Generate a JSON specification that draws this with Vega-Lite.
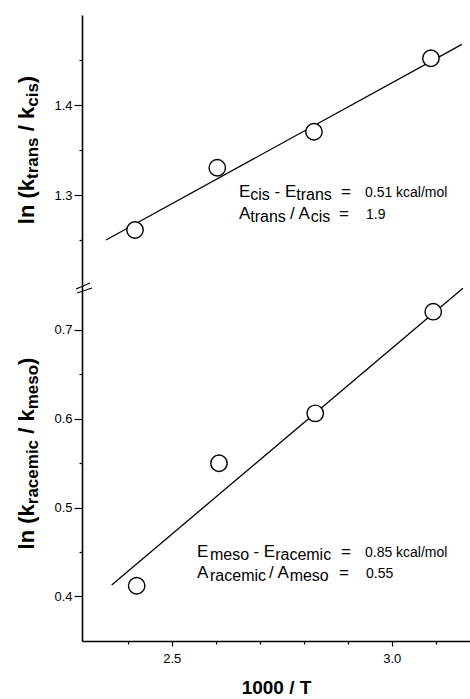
{
  "$schema": "https://vega.github.io/schema/vega-lite/v6.json",
  "width": 388,
  "height": 626,
  "autosize": {"type": "none"},
  "padding": {"left": 82, "top": 15, "right": 0, "bottom": 58},
  "background": "white",
  "config": {
    "view": {"stroke": null},
    "font": "Liberation Sans",
    "axis": {"grid": false, "domainColor": "black", "domainWidth": 1.6, "tickColor": "black", "tickWidth": 1.2, "labelColor": "black", "labelFont": "Liberation Sans", "labelFontSize": 13, "titleColor": "black", "titleFont": "Liberation Sans"}
  },
  "datasets": {
    "top_pts": [{"x": 2.4165, "y": 1.2611}, {"x": 2.6035, "y": 1.3303}, {"x": 2.8233, "y": 1.3703}, {"x": 3.0892, "y": 1.4519}],
    "top_fit": [{"x": 2.3505, "y": 1.25}, {"x": 3.1596, "y": 1.4674}],
    "bot_pts": [{"x": 2.4203, "y": 0.4121}, {"x": 2.6074, "y": 0.5497}, {"x": 2.8262, "y": 0.6058}, {"x": 3.0944, "y": 0.72}],
    "bot_fit": [{"x": 2.3635, "y": 0.4129}, {"x": 3.1619, "y": 0.7463}],
    "breaks": [{"x": 2.2824, "y": 1.1956, "x2": 2.3142, "y2": 1.2022}, {"x": 2.2846, "y": 1.1911, "x2": 2.3187, "y2": 1.1967}],
    "top_main": [{"x": 2.6528, "y": 1.2978, "text": "E"}, {"x": 2.7337, "y": 1.2978, "text": "- E"}, {"x": 2.8846, "y": 1.2978, "text": "="}, {"x": 2.6528, "y": 1.2733, "text": "A"}, {"x": 2.7687, "y": 1.2733, "text": "/ A"}, {"x": 2.8801, "y": 1.2733, "text": "="}],
    "top_sub": [{"x": 2.6785, "y": 1.2978, "text": "cis"}, {"x": 2.783, "y": 1.2978, "text": "trans"}, {"x": 2.6785, "y": 1.2733, "text": "trans"}, {"x": 2.8158, "y": 1.2733, "text": "cis"}],
    "top_val": [{"x": 2.9392, "y": 1.2978, "text": "0.51 kcal/mol"}, {"x": 2.9415, "y": 1.2733, "text": "1.9"}],
    "top_tmain": [{"x": 2.187, "y": 1.26756, "text": "ln (k"}, {"x": 2.187, "y": 1.37078, "text": "/ k"}, {"x": 2.187, "y": 1.42422, "text": ")"}],
    "top_tsub": [{"x": 2.187, "y": 1.31778, "text": "trans"}, {"x": 2.187, "y": 1.398, "text": "cis"}],
    "bot_main": [{"x": 2.5574, "y": 0.4444, "text": "E"}, {"x": 2.6858, "y": 0.4444, "text": "- E"}, {"x": 2.8846, "y": 0.4444, "text": "="}, {"x": 2.5574, "y": 0.4208, "text": "A"}, {"x": 2.721, "y": 0.4208, "text": "/ A"}, {"x": 2.8801, "y": 0.4208, "text": "="}],
    "bot_sub": [{"x": 2.587, "y": 0.4444, "text": "meso"}, {"x": 2.7351, "y": 0.4444, "text": "racemic"}, {"x": 2.587, "y": 0.4208, "text": "racemic"}, {"x": 2.768, "y": 0.4208, "text": "meso"}],
    "bot_val": [{"x": 2.9392, "y": 0.4444, "text": "0.85 kcal/mol"}, {"x": 2.9415, "y": 0.4208, "text": "0.55"}],
    "bot_tmain": [{"x": 2.187, "y": 0.45292, "text": "ln (k"}, {"x": 2.187, "y": 0.58281, "text": "/ k"}, {"x": 2.187, "y": 0.66022, "text": ")"}],
    "bot_tsub": [{"x": 2.187, "y": 0.50371, "text": "racemic"}, {"x": 2.187, "y": 0.61034, "text": "meso"}]
  },
  "encoding": {
    "x": {
      "field": "x", "type": "quantitative",
      "scale": {"domain": [2.296, 3.178], "nice": false, "zero": false},
      "axis": {
        "values": [2.4, 2.5, 2.6, 2.7, 2.8, 2.9, 3, 3.1],
        "format": ".1f",
        "labelExpr": "datum.value == 2.5 || datum.value == 3 ? datum.label : ''",
        "tickSize": {"condition": {"test": "datum.value == 2.5 || datum.value == 3", "value": 5}, "value": 3},
        "labelPadding": 6,
        "title": "1000 / T",
        "titleFontSize": 19,
        "titleFontWeight": "bold",
        "titlePadding": 13
      }
    }
  },
  "layer": [
    {
      "encoding": {
        "y": {
          "field": "y", "type": "quantitative",
          "scale": {"domain": [1.2, 1.5], "range": [270, 0], "nice": false, "zero": false},
          "axis": {
            "orient": "left",
            "values": [1.25, 1.3, 1.35, 1.4, 1.45],
            "format": ".1f",
            "labelExpr": "datum.value == 1.3 || datum.value == 1.4 ? datum.label : ''",
            "tickSize": {"condition": {"test": "datum.value == 1.3 || datum.value == 1.4", "value": 8}, "value": 3},
            "labelPadding": 2,
            "title": null
          }
        }
      },
      "layer": [
        {"data": {"name": "top_fit"}, "mark": {"type": "line", "color": "black", "strokeWidth": 1.3}, "encoding": {}},
        {"data": {"name": "top_pts"}, "mark": {"type": "point", "shape": "circle", "size": 270, "filled": true, "fill": "white", "stroke": "black", "strokeWidth": 1.4, "opacity": 1}, "encoding": {}},
        {"data": {"name": "breaks"}, "mark": {"type": "rule", "color": "black", "strokeWidth": 1.2}, "encoding": {"x2": {"field": "x2"}, "y2": {"field": "y2"}}},
        {"data": {"name": "top_main"}, "mark": {"type": "text", "align": "left", "baseline": "alphabetic", "fontSize": 17, "color": "black"}, "encoding": {"text": {"field": "text"}}},
        {"data": {"name": "top_sub"}, "mark": {"type": "text", "align": "left", "baseline": "alphabetic", "fontSize": 16, "dy": 3, "color": "black"}, "encoding": {"text": {"field": "text"}}},
        {"data": {"name": "top_val"}, "mark": {"type": "text", "align": "left", "baseline": "alphabetic", "fontSize": 14, "color": "black"}, "encoding": {"text": {"field": "text"}}},
        {"data": {"name": "top_tmain"}, "mark": {"type": "text", "align": "left", "baseline": "alphabetic", "angle": 270, "fontSize": 22, "fontWeight": "bold", "color": "black"}, "encoding": {"text": {"field": "text"}}},
        {"data": {"name": "top_tsub"}, "mark": {"type": "text", "align": "left", "baseline": "alphabetic", "angle": 270, "fontSize": 17, "fontWeight": "bold", "dy": 4, "color": "black"}, "encoding": {"text": {"field": "text"}}}
      ]
    },
    {
      "encoding": {
        "y": {
          "field": "y", "type": "quantitative",
          "scale": {"domain": [0.35, 0.75], "range": [626, 270], "nice": false, "zero": false},
          "axis": {
            "orient": "left",
            "values": [0.4, 0.45, 0.5, 0.55, 0.6, 0.65, 0.7],
            "format": ".1f",
            "labelExpr": "datum.value == 0.4 || datum.value == 0.5 || datum.value == 0.6 || datum.value == 0.7 ? datum.label : ''",
            "tickSize": {"condition": {"test": "datum.value == 0.4 || datum.value == 0.5 || datum.value == 0.6 || datum.value == 0.7", "value": 8}, "value": 3},
            "labelPadding": 2,
            "title": null
          }
        }
      },
      "layer": [
        {"data": {"name": "bot_fit"}, "mark": {"type": "line", "color": "black", "strokeWidth": 1.3}, "encoding": {}},
        {"data": {"name": "bot_pts"}, "mark": {"type": "point", "shape": "circle", "size": 270, "filled": true, "fill": "white", "stroke": "black", "strokeWidth": 1.4, "opacity": 1}, "encoding": {}},
        {"data": {"name": "bot_main"}, "mark": {"type": "text", "align": "left", "baseline": "alphabetic", "fontSize": 17, "color": "black"}, "encoding": {"text": {"field": "text"}}},
        {"data": {"name": "bot_sub"}, "mark": {"type": "text", "align": "left", "baseline": "alphabetic", "fontSize": 16, "dy": 3, "color": "black"}, "encoding": {"text": {"field": "text"}}},
        {"data": {"name": "bot_val"}, "mark": {"type": "text", "align": "left", "baseline": "alphabetic", "fontSize": 14, "color": "black"}, "encoding": {"text": {"field": "text"}}},
        {"data": {"name": "bot_tmain"}, "mark": {"type": "text", "align": "left", "baseline": "alphabetic", "angle": 270, "fontSize": 22, "fontWeight": "bold", "color": "black"}, "encoding": {"text": {"field": "text"}}},
        {"data": {"name": "bot_tsub"}, "mark": {"type": "text", "align": "left", "baseline": "alphabetic", "angle": 270, "fontSize": 17, "fontWeight": "bold", "dy": 4, "color": "black"}, "encoding": {"text": {"field": "text"}}}
      ]
    }
  ],
  "resolve": {"scale": {"y": "independent"}, "axis": {"y": "independent"}}
}
